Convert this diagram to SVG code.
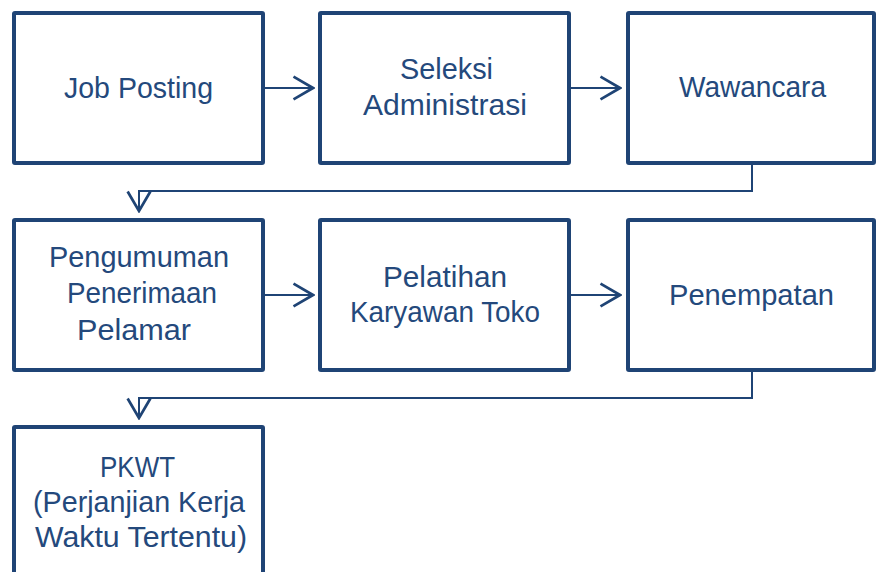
<svg xmlns="http://www.w3.org/2000/svg" width="876" height="572" viewBox="0 0 876 572">
  <defs>
    <marker id="chev" markerUnits="userSpaceOnUse" markerWidth="24" markerHeight="26" viewBox="-20 -12 22 24" refX="0" refY="0" orient="auto">
      <path d="M -18 -10.5 L 0 0 L -18 10.5" fill="none" stroke="#1F4475" stroke-width="2.5" stroke-linejoin="miter"/>
    </marker>
  </defs>
  <style>
    .box { fill: #FFFFFF; stroke: #1F4475; stroke-width: 4; }
    .lbl { font-family: "Liberation Sans", Arial, sans-serif; font-size: 29px; fill: #24497C; text-anchor: middle; }
    .conn { fill: none; stroke: #1F4475; stroke-width: 2; marker-end: url(#chev); }
  </style>
  <rect width="876" height="572" fill="#FFFFFF"/>

  <g id="connectors">
    <line class="conn" x1="265" y1="88" x2="313" y2="88"/>
    <line class="conn" x1="571" y1="88" x2="620" y2="88"/>
    <polyline class="conn" points="752,165 752,191 139,191 139,211"/>
    <line class="conn" x1="265" y1="295" x2="313" y2="295"/>
    <line class="conn" x1="571" y1="295" x2="620" y2="295"/>
    <polyline class="conn" points="752,372 752,398 139,398 139,418"/>
  </g>

  <g id="job-posting">
    <rect class="box" x="14" y="13" width="249" height="150" rx="1"/>
    <text class="lbl" x="138.5" y="98" textLength="149" lengthAdjust="spacingAndGlyphs">Job Posting</text>
  </g>
  <g id="seleksi-administrasi">
    <rect class="box" x="320" y="13" width="249" height="150" rx="1"/>
    <text class="lbl" x="446.5" y="79" textLength="93" lengthAdjust="spacingAndGlyphs">Seleksi</text>
    <text class="lbl" x="445" y="115" textLength="164" lengthAdjust="spacingAndGlyphs">Administrasi</text>
  </g>
  <g id="wawancara">
    <rect class="box" x="628" y="13" width="246" height="150" rx="1"/>
    <text class="lbl" x="752.5" y="97" textLength="147" lengthAdjust="spacingAndGlyphs">Wawancara</text>
  </g>

  <g id="pengumuman">
    <rect class="box" x="14" y="220" width="249" height="150" rx="1"/>
    <text class="lbl" x="139" y="267" textLength="180" lengthAdjust="spacingAndGlyphs">Pengumuman</text>
    <text class="lbl" x="142" y="303" textLength="150" lengthAdjust="spacingAndGlyphs">Penerimaan</text>
    <text class="lbl" x="134" y="340" textLength="114" lengthAdjust="spacingAndGlyphs">Pelamar</text>
  </g>
  <g id="pelatihan">
    <rect class="box" x="320" y="220" width="249" height="150" rx="1"/>
    <text class="lbl" x="445" y="287" textLength="124" lengthAdjust="spacingAndGlyphs">Pelatihan</text>
    <text class="lbl" x="445" y="322" textLength="190" lengthAdjust="spacingAndGlyphs">Karyawan Toko</text>
  </g>
  <g id="penempatan">
    <rect class="box" x="628" y="220" width="246" height="150" rx="1"/>
    <text class="lbl" x="751.5" y="305" textLength="165" lengthAdjust="spacingAndGlyphs">Penempatan</text>
  </g>

  <g id="pkwt">
    <rect class="box" x="14" y="427" width="249" height="160" rx="1"/>
    <text class="lbl" x="137.5" y="477" textLength="75" lengthAdjust="spacingAndGlyphs">PKWT</text>
    <text class="lbl" x="139" y="512" textLength="212" lengthAdjust="spacingAndGlyphs">(Perjanjian Kerja</text>
    <text class="lbl" x="141" y="547" textLength="212" lengthAdjust="spacingAndGlyphs">Waktu Tertentu)</text>
  </g>
</svg>
